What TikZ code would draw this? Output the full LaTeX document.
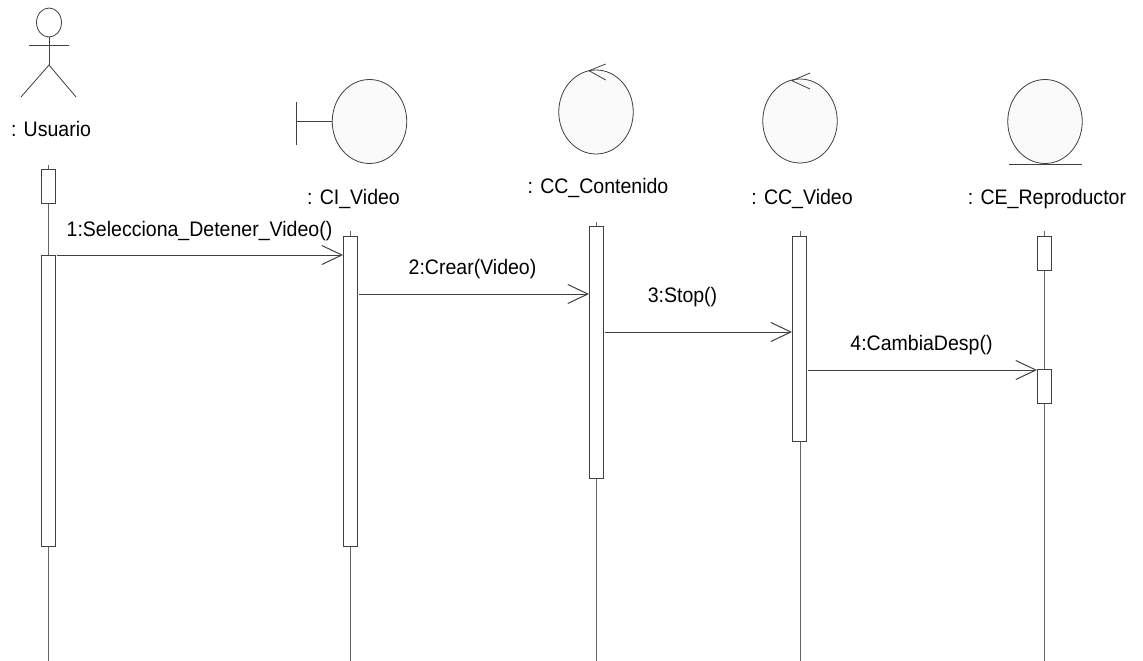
\documentclass[tikz,border=0pt]{standalone}
\usepackage{fontspec}
\setmainfont[FakeStretch=0.93]{Liberation Sans}
\usetikzlibrary{arrows.meta,shapes.geometric}
\definecolor{ln}{gray}{0.25}
\definecolor{bodyfill}{gray}{0.98}
\tikzset{
  ln/.style={draw=ln,line width=0.8pt},
  lifeline/.style={draw=ln!80,line width=0.7pt},
  bar/.style={rectangle,ln,fill=white,minimum width=14pt,inner sep=0pt,outer sep=0pt},
  orb/.style={ellipse,ln,fill=bodyfill,minimum width=74.5pt,minimum height=84pt,inner sep=0pt,outer sep=0pt},
  lbl/.style={font=\fontsize{21}{23}\selectfont,inner sep=0pt,text=black,anchor=base},
  msg/.style={draw=ln,line width=1pt,-{Straight Barb[length=20pt,width=19pt,line width=1pt]}}
}
\begin{document}
\begin{tikzpicture}[x=1pt,y=-1pt]
\useasboundingbox[fill=white] (0,0) rectangle (1143,661);
% lifeline ends
\coordinate (ut) at (48,165); \coordinate (ub) at (48,661);
\coordinate (it) at (350.5,231); \coordinate (ib) at (350.5,661);
\coordinate (ct) at (596,222); \coordinate (cb) at (596,661);
\coordinate (vt) at (800,231); \coordinate (vb) at (800,661);
\coordinate (rt) at (1044.5,231); \coordinate (rb) at (1044.5,661);
\draw[lifeline] (ut)--(ub);
\draw[lifeline] (it)--(ib);
\draw[lifeline] (ct)--(cb);
\draw[lifeline] (vt)--(vb);
\draw[lifeline] (rt)--(rb);
% activation bars
\node[bar,minimum height=34pt] (u1) at (48,186) {};
\node[bar,minimum height=291pt] (u2) at (48,400.5) {};
\node[bar,minimum height=310pt] (i1) at (350,391) {};
\node[bar,minimum height=252pt] (c1) at (596,352) {};
\node[bar,minimum height=205pt] (v1) at (799,339) {};
\node[bar,minimum height=34pt] (r1) at (1044,253) {};
\node[bar,minimum height=34pt] (r2) at (1044,386) {};
% actor
\node[ellipse,ln,minimum width=25pt,minimum height=29pt,inner sep=0pt,outer sep=0pt] (head) at (49,22.5) {};
\coordinate (hip) at (49,65);
\coordinate (armL) at (29,45); \coordinate (armR) at (68.5,45);
\coordinate (legL) at (21,97); \coordinate (legR) at (76,97);
\draw[ln] (head.south)--(hip);
\draw[ln] (armL)--(armR);
\draw[ln] (legL)--(hip)--(legR);
\node[lbl] (lu) at (51,136.5) {: Usuario};
% boundary
\node[orb] (ci) at (369.5,121.5) {};
\coordinate (bt) at (296,102); \coordinate (bb) at (296,145);
\draw[ln] (bt)--(bb);
\draw[ln] (bb |- ci.west)--(ci.west);
\node[lbl] (li) at (353.5,204.5) {: CI\_Video};
% control 1
\node[orb] (cc) at (596,112) {};
\coordinate (cctip) at (589,70.7); \coordinate (cca) at (605.7,64); \coordinate (ccb) at (605.7,80);
\draw[ln] (cca)--(cctip)--(ccb);
\node[lbl] (lc) at (598,193) {: CC\_Contenido};
% control 2
\node[orb] (cv) at (800,121) {};
\coordinate (cvtip) at (792,80.7); \coordinate (cva) at (810,73); \coordinate (cvb) at (810,89);
\draw[ln] (cva)--(cvtip)--(cvb);
\node[lbl] (lv) at (802,204) {: CC\_Video};
% entity
\node[orb] (ce) at (1045,121.5) {};
\coordinate (ceL) at (1009,164.7); \coordinate (ceR) at (1082,164.7);
\draw[ln] (ceL)--(ceR);
\node[lbl] (lr) at (1047,204) {: CE\_Reproductor};
% messages
\coordinate (m1) at (0,255); \coordinate (m2) at (0,294); \coordinate (m3) at (0,332); \coordinate (m4) at (0,370);
\draw[msg,shorten <=2pt] (u2.east |- m1)--(i1.west |- m1);
\draw[msg,shorten <=2pt] (i1.east |- m2)--(c1.west |- m2);
\draw[msg,shorten <=2pt] (c1.east |- m3)--(v1.west |- m3);
\draw[msg,shorten <=2pt] (v1.east |- m4)--(r2.west |- m4);
\node[lbl] (t1) at (199.5,236) {1:Selecciona\_Detener\_Video()};
\node[lbl] (t2) at (472.5,274) {2:Crear(Video)};
\node[lbl] (t3) at (682.5,302) {3:Stop()};
\node[lbl] (t4) at (921.5,350) {4:CambiaDesp()};
\end{tikzpicture}
\end{document}
